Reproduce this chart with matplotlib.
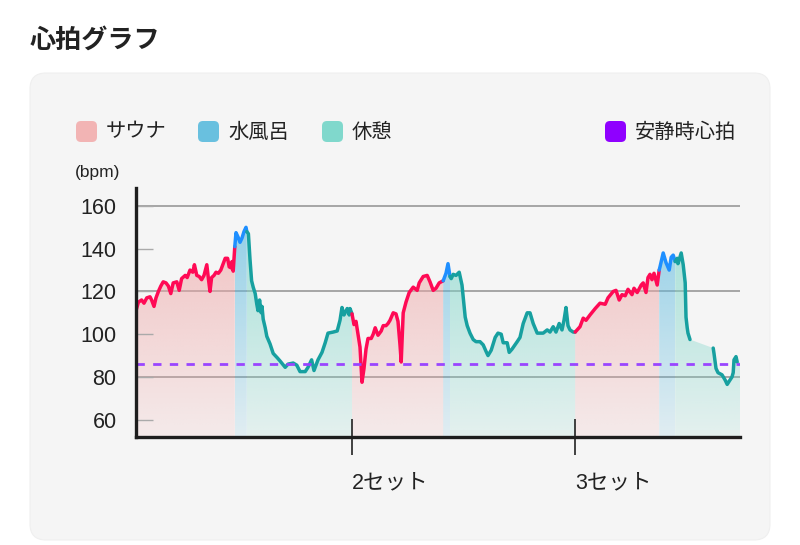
import numpy as np
import matplotlib
matplotlib.use("Agg")
import matplotlib.pyplot as plt
from matplotlib.patches import FancyBboxPatch, Polygon
from matplotlib.colors import to_rgb

plt.rcParams['font.family'] = ['Noto Sans CJK JP', 'DejaVu Sans']
LATIN = ['Liberation Sans', 'Noto Sans CJK JP']

# ---------------- data (time in minutes, bpm) ----------------
sauna1_t = [0, 0.6, 1.4, 2.0, 2.7, 3.5, 3.9, 4.5, 5.0, 5.6, 6.2, 6.8, 7.5, 8.1, 8.7, 9.3, 10.2, 10.8,
            11.4, 12.3, 12.8, 13.5, 14.2, 14.6, 15.2, 15.8, 16.4, 17.0, 17.7, 18.1, 18.5, 18.9, 19.5,
            20.0, 20.6, 21.2, 21.8, 22.3, 22.9, 23.3, 23.8, 24.0, 24.3, 24.7]
sauna1_v = [111, 115, 116, 114.5, 117, 117.5, 116, 113, 117, 120, 122.5, 124.5, 124, 122.5, 119, 124,
            124.5, 120.5, 126, 127.5, 126.5, 130, 129, 132.5, 127.5, 127, 125.5, 127.5, 132.5, 126,
            120, 126.5, 127.5, 129, 128.5, 130, 133, 135.5, 135.5, 131.5, 131, 134, 129.5, 141]
cold1_t = [24.7, 25.0, 25.5, 26.0, 26.5, 27.0, 27.5, 27.7]
cold1_v = [141, 147.5, 145.5, 143, 145, 148, 150, 148]
rest1_t = [27.7, 28.1, 28.5, 28.9, 29.3, 29.8, 30.2, 30.5, 30.9, 31.3, 31.5, 31.8, 32.3, 32.7, 33.5,
           34.3, 35.3, 36.0, 37.3, 38.0, 39.3, 40.2, 41.0, 42.3, 43.0, 43.9, 44.5, 45.5, 46.5, 47.3,
           48.0, 49.3, 50.3, 51.0, 51.5, 52.0, 52.8, 53.3, 53.5, 54.0]
rest1_v = [148, 147, 135, 125, 122, 119, 114, 111, 116, 110, 113, 107, 103, 99, 95.5, 91, 89, 87.5,
           84.5, 86, 86.5, 85.5, 82.5, 82.5, 84.5, 88, 83, 88, 91.5, 96, 100.5, 101, 101.5, 106.5,
           112.5, 109, 112, 109, 112, 109.5]
sauna2_t = [54.0, 54.5, 55.0, 55.5, 56.0, 56.5, 57.0, 57.5, 58.0, 58.8, 59.3, 59.8, 60.5, 61.3, 61.8,
            62.5, 63.0, 63.5, 64.3, 65.0, 65.5, 66.0, 66.3, 66.8, 67.5, 68.3, 69.3, 70.3, 70.8, 71.8,
            72.8, 73.5, 74.3, 75.0, 75.8, 76.8]
sauna2_v = [109.5, 104.5, 106, 100, 94, 77.5, 84, 93, 98, 98, 100, 103, 99.5, 101.5, 104, 104, 105,
            106.5, 110, 109.5, 106, 95, 87, 110, 115, 119.5, 122, 120.5, 124, 127, 127.5, 124.5,
            120.5, 121.5, 124, 125]
cold2_t = [76.8, 77.5, 78.0, 78.5]
cold2_v = [125, 128.5, 133, 127]
rest2_t = [78.5, 78.8, 79.3, 80.0, 80.8, 81.5, 82.3, 82.8, 83.5, 84.3, 85.0, 86.0, 86.8, 87.5, 88.0,
           88.8, 89.8, 90.5, 91.3, 91.8, 92.8, 93.3, 94.0, 95.3, 96.0, 96.8, 97.8, 98.5, 99.3, 100.3,
           101.0, 101.8, 102.8, 103.5, 104.3, 105.0, 105.8, 106.5, 107.0, 107.5, 108.0, 108.5, 109.3,
           109.8]
rest2_v = [127, 126, 128, 127.5, 129, 123, 108, 104, 100.5, 97.5, 96.5, 96.5, 95, 92, 90, 92.5, 98.5,
           100.5, 100, 96, 96, 91.5, 93, 96.5, 98.5, 105, 110, 110, 105, 100.5, 100.5, 100.5, 102,
           101, 103.5, 101, 105, 102, 106.5, 112.5, 104, 102, 101, 101]
sauna3_t = [109.8, 111.0, 111.8, 112.5, 113.5, 114.8, 116.0, 117.3, 118.0, 119.3, 120.0, 120.8, 121.5,
            122.3, 123.0, 124.0, 124.5, 125.3, 126.3, 126.8, 127.5, 128.0, 128.5, 129.0, 129.5, 130.3,
            130.8]
sauna3_v = [101, 103.5, 107.5, 106.5, 109, 112, 114.5, 114, 117, 120, 120.5, 116, 118.5, 118, 121,
            118.5, 121.5, 119.5, 123, 124, 119.5, 126.5, 128, 125.5, 128.5, 123, 130]
cold3_t = [130.8, 131.0, 131.8, 132.5, 133.3, 133.8, 134.3, 134.8]
cold3_v = [130, 131.5, 138, 133.5, 130, 136, 137, 134]
rest3_t = [134.8, 135.3, 135.5, 136.3, 136.8, 137.3, 137.5, 137.8, 138.0, 138.5, np.nan,
           144.3, 144.5, 145.0, 145.5, 146.5, 147.3, 147.8, 148.3, 149.0, 149.3, 149.5, 150.0, 150.3]
rest3_v = [134, 135.5, 133, 138, 132.5, 124, 108, 103, 100.5, 97.5, np.nan,
           93.5, 91, 84, 82, 81, 78.5, 76.5, 78, 80, 82, 88, 89.5, 87]

resting_hr = 86
set_ticks = [54, 109.75]
set_labels = ['2セット', '3セット']
y_ticks = [60, 80, 100, 120, 140, 160]
grid_vals = [80, 120, 160]
legend_labels = ['サウナ', '水風呂', '休憩', '安静時心拍']

# ---------------- styles ----------------
C_SAUNA_LINE = '#ff0a55'
C_COLD_LINE = '#1e8fff'
C_REST_LINE = '#17a0a0'
C_SAUNA_FILL = '#f0a8a8'
C_COLD_FILL = '#63bde0'
C_REST_FILL = '#7dd6c9'
C_SAUNA_LEG = '#f2b4b4'
C_COLD_LEG = '#69c0df'
C_REST_LEG = '#80d8cc'
C_REST_HR = '#8f00ff'
C_DASH = '#9a45ff'

YMIN, YMAX = 51.9, 168.4
XMIN, XMAX = 0, 151

fig = plt.figure(figsize=(8.0, 5.45), dpi=100)
fig.patch.set_facecolor('white')

# panel
panel = FancyBboxPatch((0.30, 0.05), 7.40, 4.67, boxstyle='round,pad=0,rounding_size=0.16',
                       transform=fig.dpi_scale_trans, facecolor='#f5f5f5', edgecolor='#efefef',
                       linewidth=0.8, zorder=-10)
fig.patches.append(panel)

def px(x, y):
    return x / 100.0, (545 - y) / 100.0

# title
fig.text(*px(30, 40), '心拍グラフ', transform=fig.dpi_scale_trans, fontsize=18.8,
         fontweight='bold', color='#222222', va='center', ha='left')

# legend
leg_items = [(76, C_SAUNA_LEG, legend_labels[0]), (198, C_COLD_LEG, legend_labels[1]),
             (322, C_REST_LEG, legend_labels[2]), (605, C_REST_HR, legend_labels[3])]
for x0, col, lab in leg_items:
    sx, sy = px(x0, 142)
    sq = FancyBboxPatch((sx, sy), 0.21, 0.21, boxstyle='round,pad=0,rounding_size=0.05',
                        transform=fig.dpi_scale_trans, facecolor=col, edgecolor='none', zorder=2)
    fig.patches.append(sq)
    fig.text(*px(x0 + 30, 132), lab, transform=fig.dpi_scale_trans, fontsize=14.6,
             color='#222222', va='center', ha='left')

fig.text(*px(75, 172), '(bpm)', transform=fig.dpi_scale_trans, fontsize=12.5,
         color='#222222', va='center', ha='left', family=LATIN)

ax = fig.add_axes([136 / 800, (545 - 437) / 545, (740 - 136) / 800, (437 - 188) / 545])
ax.set_facecolor('none')
ax.set_xlim(XMIN, XMAX)
ax.set_ylim(YMIN, YMAX)

for g in grid_vals:
    ax.axhline(g, color='#a5a5a5', linewidth=1.4, zorder=0.5)

def grad_fill(t, v, color, a_top=0.75, a_bot=0.14, t_end=None):
    t = np.asarray(t, float); v = np.asarray(v, float)
    m = np.isfinite(t) & np.isfinite(v)
    t = t[m]; v = v[m]
    te = t[-1] if t_end is None else t_end
    verts = [(t[0], YMIN)] + list(zip(t, v))
    if t_end is not None:
        verts.append((t_end, v[-1]))
    verts.append((te, YMIN))
    poly = Polygon(verts, closed=True, facecolor='none', edgecolor='none')
    ax.add_patch(poly)
    rgb = to_rgb(color)
    grad = np.zeros((256, 1, 4))
    grad[..., 0], grad[..., 1], grad[..., 2] = rgb
    grad[:, 0, 3] = np.linspace(a_bot, a_top, 256)
    im = ax.imshow(grad, extent=[t[0], te, YMIN, YMAX], origin='lower', aspect='auto',
                   zorder=1, interpolation='bilinear')
    im.set_clip_path(poly)

grad_fill(sauna1_t, sauna1_v, C_SAUNA_FILL)
grad_fill(cold1_t, cold1_v, C_COLD_FILL)
grad_fill(rest1_t, rest1_v, C_REST_FILL)
grad_fill(sauna2_t, sauna2_v, C_SAUNA_FILL)
grad_fill(cold2_t, cold2_v, C_COLD_FILL)
grad_fill(rest2_t, rest2_v, C_REST_FILL)
grad_fill(sauna3_t, sauna3_v, C_SAUNA_FILL)
grad_fill(cold3_t, cold3_v, C_COLD_FILL)
grad_fill(rest3_t, rest3_v, C_REST_FILL, t_end=XMAX)

lw = 2.5
for t, v, c in [(sauna1_t, sauna1_v, C_SAUNA_LINE), (cold1_t, cold1_v, C_COLD_LINE),
                (rest1_t, rest1_v, C_REST_LINE), (sauna2_t, sauna2_v, C_SAUNA_LINE),
                (cold2_t, cold2_v, C_COLD_LINE), (rest2_t, rest2_v, C_REST_LINE),
                (sauna3_t, sauna3_v, C_SAUNA_LINE), (cold3_t, cold3_v, C_COLD_LINE),
                (rest3_t, rest3_v, C_REST_LINE)]:
    ax.plot(t, v, color=c, linewidth=lw, solid_joinstyle='round', solid_capstyle='round', zorder=3)

ax.axhline(resting_hr, color=C_DASH, linewidth=2.0, linestyle=(0, (3.0, 3.0)), zorder=4)
ax.set_xlim(XMIN, XMAX)
ax.set_ylim(YMIN, YMAX)

for s in ['top', 'right']:
    ax.spines[s].set_visible(False)
for s in ['left', 'bottom']:
    ax.spines[s].set_linewidth(2.4)
    ax.spines[s].set_color('#1e1e1e')
    ax.spines[s].set_zorder(5)

ax.set_yticks(y_ticks)
ax.set_yticklabels([str(v) for v in y_ticks], family=LATIN)
ax.tick_params(axis='y', direction='in', length=12, width=1.0, color='#aaaaaa',
               labelsize=15.5, labelcolor='#222222', pad=14)
ax.set_xticks(set_ticks)
ax.set_xticklabels(set_labels, family=LATIN)
ax.tick_params(axis='x', direction='inout', length=26, width=1.2, color='#222222',
               labelsize=15.5, labelcolor='#222222', pad=12.5)
for lbl in ax.get_xticklabels():
    lbl.set_ha('left')

fig.savefig('out.png', dpi=100, facecolor='white')
